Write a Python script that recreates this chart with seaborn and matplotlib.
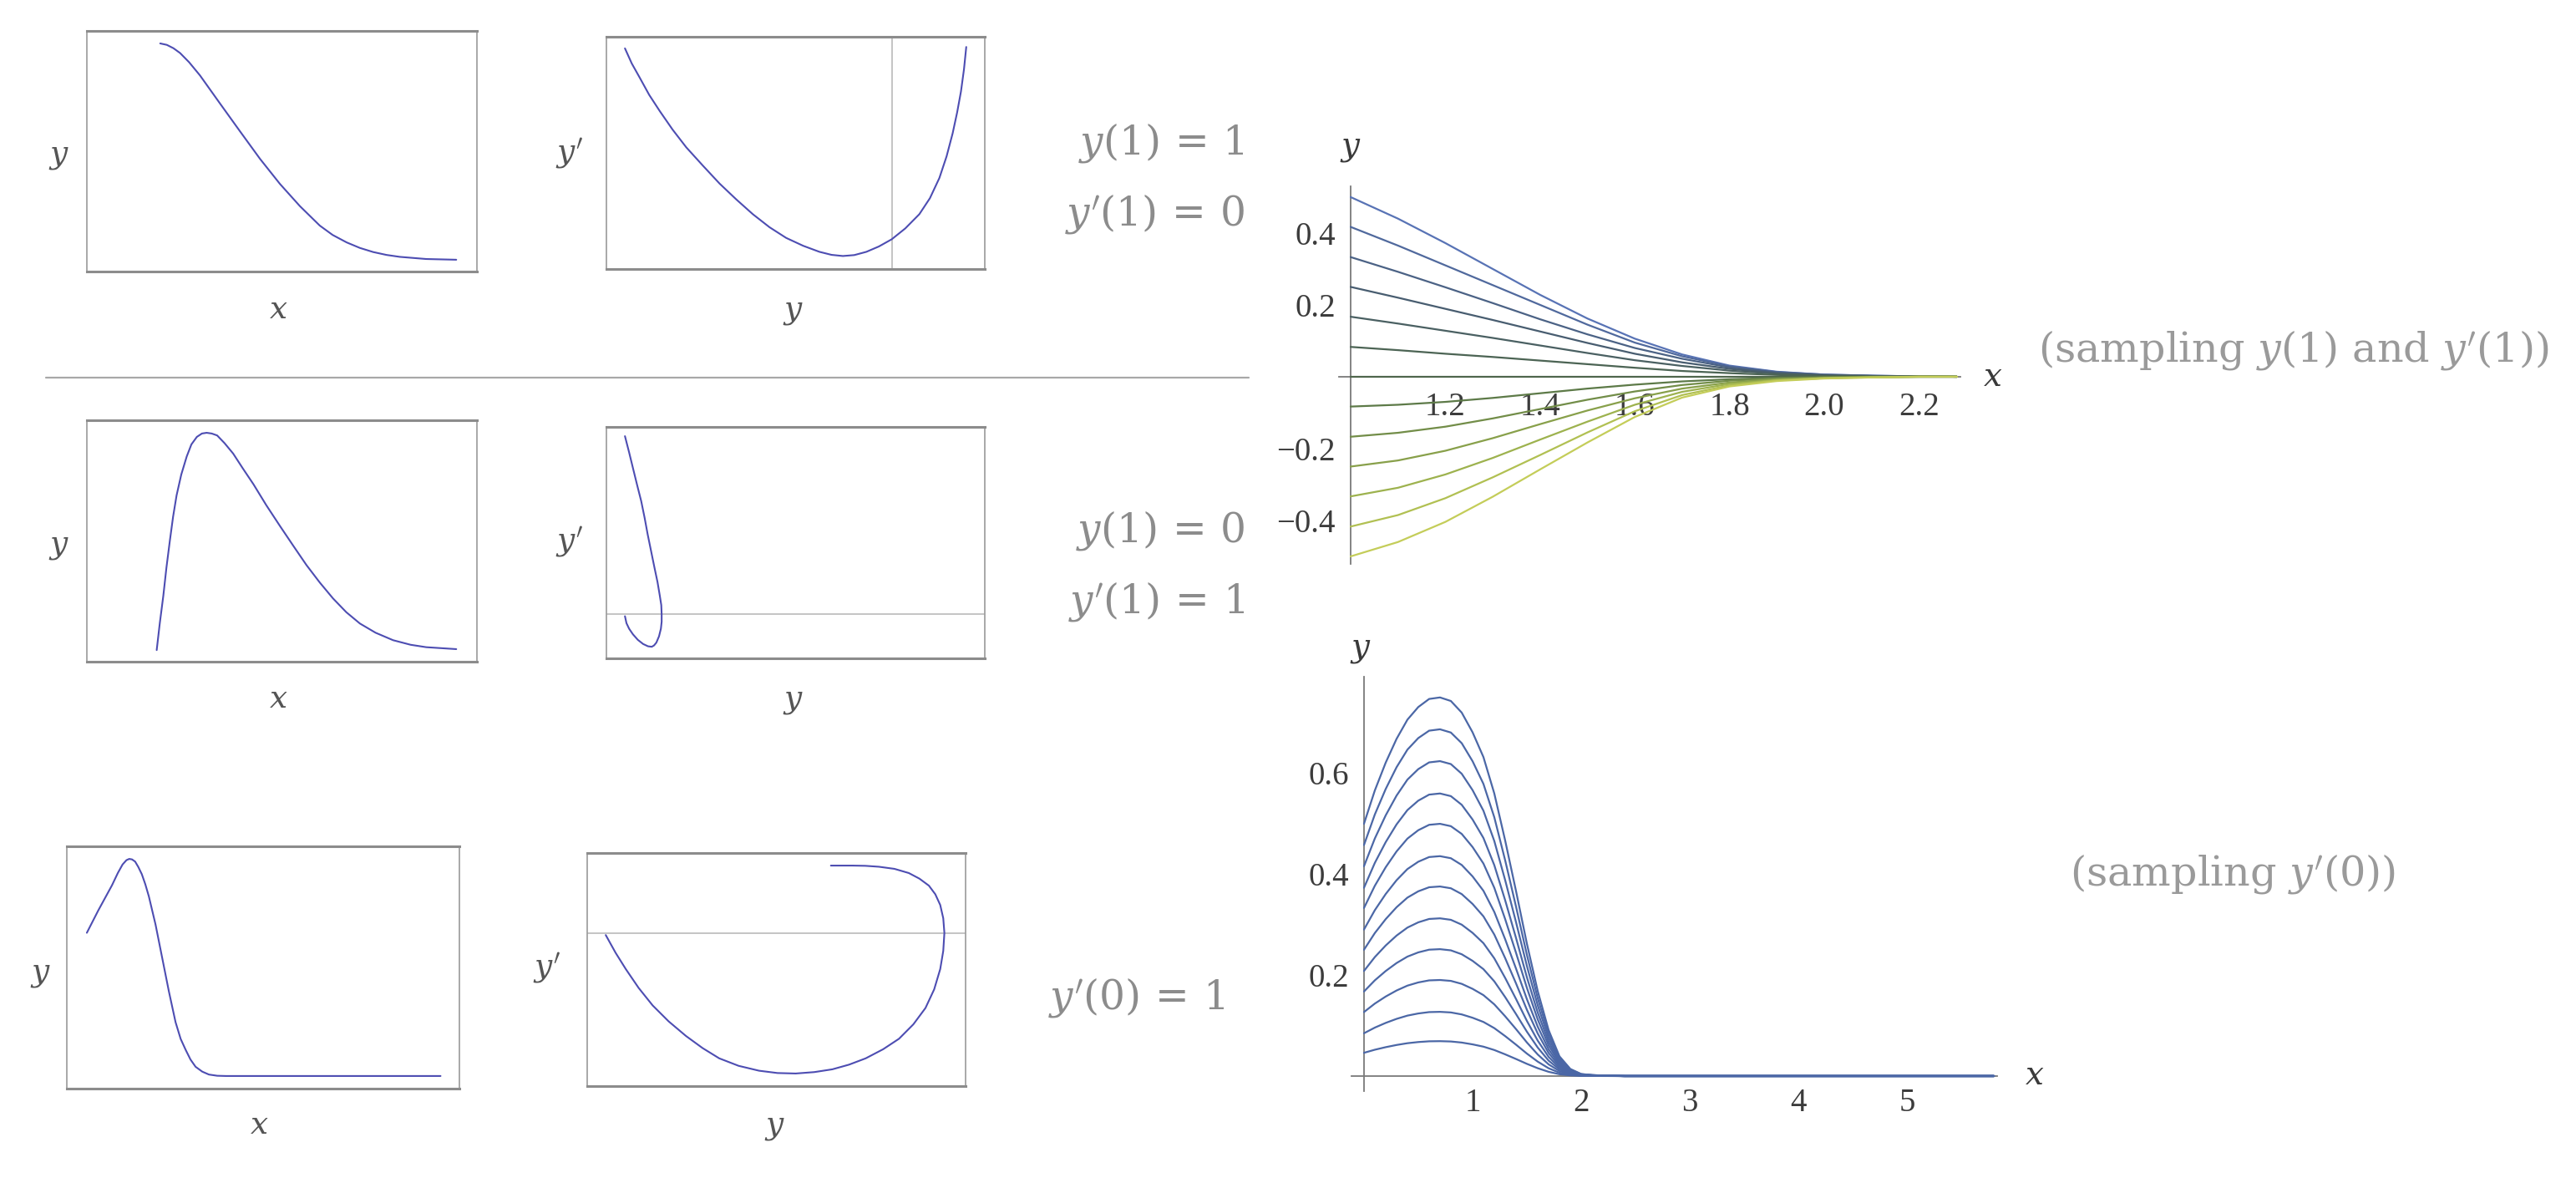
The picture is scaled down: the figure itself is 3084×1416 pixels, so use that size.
import numpy as np
import pandas as pd
import matplotlib
matplotlib.use("Agg")
import matplotlib.pyplot as plt
import seaborn as sns
from matplotlib.ticker import FixedLocator, MultipleLocator, FuncFormatter
from matplotlib.lines import Line2D

# ---------------- data ----------------
# left-hand framed panels (arbitrary frame units, 0..1)
p1_x = [.188, .205, .222, .239, .262, .290, .341, .392, .444, .495, .546, .597, .630, .666,
        .700, .734, .768, .802, .870, .947]
p1_y = [.948, .942, .928, .908, .870, .815, .699, .584, .468, .364, .272, .191, .152, .121,
        .098, .081, .069, .061, .052, .049]

p2_y = [.049, .067, .088, .113, .141, .175, .211, .255, .299, .343, .387, .431, .475, .520,
        .563, .595, .625, .655, .687, .720, .754, .790, .827, .855, .880, .899, .915, .927,
        .937, .945, .951]
p2_yp = [.950, .885, .824, .750, .680, .600, .524, .445, .368, .300, .236, .180, .134, .100,
         .074, .061, .056, .060, .074, .097, .128, .175, .236, .305, .392, .485, .584, .675,
         .764, .860, .956]
p2_guide = .754

p3_x = [.179, .187, .196, .204, .213, .221, .230, .242, .256, .268, .282, .295, .307, .320,
        .334, .353, .375, .400, .427, .460, .495, .530, .563, .597, .631, .665, .700, .740,
        .785, .830, .870, .947]
p3_y = [.048, .160, .273, .390, .504, .600, .689, .775, .850, .900, .931, .945, .948, .945,
        .937, .905, .862, .800, .735, .648, .562, .478, .400, .328, .262, .205, .158, .120,
        .089, .070, .060, .052]

p4_y = [.049, .060, .070, .081, .092, .101, .109, .118, .127, .135, .141, .145, .146, .146,
        .144, .139, .132, .126, .120, .110, .097, .083, .070, .060, .053, .049]
p4_yp = [.960, .890, .823, .750, .679, .607, .536, .464, .392, .330, .272, .230, .190, .158,
         .128, .095, .068, .056, .050, .052, .062, .080, .104, .128, .152, .182]
p4_guide = .190

p5_x = [.051, .080, .115, .130, .142, .152, .159, .166, .174, .182, .191, .200, .209, .226,
        .243, .260, .277, .290, .303, .315, .328, .345, .362, .383, .405, .679, .952]
p5_y = [.643, .735, .839, .890, .925, .943, .948, .946, .937, .915, .885, .843, .793, .677,
        .539, .401, .274, .205, .159, .120, .090, .070, .058, .053, .052, .052, .052]

p6_y = [.049, .075, .102, .136, .173, .215, .261, .305, .349, .400, .454, .503, .551, .600,
        .648, .692, .736, .782, .824, .862, .894, .917, .933, .941, .944, .941, .933, .920,
        .903, .878, .850, .812, .771, .735, .701, .644]
p6_yp = [.648, .572, .502, .421, .346, .278, .215, .163, .119, .087, .066, .056, .054, .060,
         .072, .092, .119, .158, .203, .265, .335, .415, .502, .580, .657, .720, .777, .823,
         .860, .890, .914, .932, .941, .945, .946, .946]
p6_guide = .657

# top-right family: sampling y(1) and y'(1)
tr_x = [1.0, 1.1, 1.2, 1.3, 1.4, 1.5, 1.6, 1.7, 1.8, 1.9, 2.0, 2.1, 2.2, 2.28]
tr_curves = {
    "p6": [0.500, 0.440, 0.372, 0.300, 0.228, 0.162, 0.106, 0.062, 0.031, 0.014, 0.006, 0.003, 0.001, 0.0],
    "p5": [0.417, 0.365, 0.310, 0.255, 0.200, 0.145, 0.095, 0.057, 0.029, 0.013, 0.006, 0.003, 0.001, 0.0],
    "p4": [0.333, 0.292, 0.249, 0.205, 0.160, 0.118, 0.080, 0.050, 0.026, 0.012, 0.005, 0.002, 0.001, 0.0],
    "p3": [0.250, 0.220, 0.189, 0.158, 0.126, 0.094, 0.064, 0.040, 0.022, 0.010, 0.004, 0.002, 0.001, 0.0],
    "p2": [0.167, 0.148, 0.128, 0.108, 0.087, 0.066, 0.046, 0.030, 0.017, 0.008, 0.004, 0.002, 0.001, 0.0],
    "p1": [0.083, 0.074, 0.064, 0.055, 0.045, 0.035, 0.025, 0.016, 0.010, 0.005, 0.002, 0.001, 0.0, 0.0],
    "z0": [0.0] * 14,
    "n1": [-0.083, -0.078, -0.070, -0.059, -0.046, -0.033, -0.022, -0.013, -0.007, -0.003, -0.001, 0.0, 0.0, 0.0],
    "n2": [-0.167, -0.156, -0.139, -0.116, -0.090, -0.064, -0.041, -0.023, -0.011, -0.005, -0.002, -0.001, 0.0, 0.0],
    "n3": [-0.250, -0.233, -0.206, -0.171, -0.132, -0.094, -0.060, -0.033, -0.016, -0.007, -0.003, -0.001, 0.0, 0.0],
    "n4": [-0.333, -0.309, -0.272, -0.226, -0.175, -0.125, -0.078, -0.042, -0.020, -0.009, -0.004, -0.001, 0.0, 0.0],
    "n5": [-0.417, -0.385, -0.338, -0.280, -0.218, -0.155, -0.096, -0.051, -0.024, -0.010, -0.004, -0.002, 0.0, 0.0],
    "n6": [-0.500, -0.460, -0.404, -0.334, -0.258, -0.183, -0.112, -0.058, -0.027, -0.012, -0.005, -0.002, 0.0, 0.0],
}
tr_colors = ["#5873b5", "#50699d", "#4b6285", "#485d70", "#4a6062", "#4c6454", "#4f664c",
             "#5d7a48", "#728d48", "#88a04a", "#9db24e", "#b1c052", "#c4cd59"]
tr_xticks = [1.2, 1.4, 1.6, 1.8, 2.0, 2.2]
tr_yticks = [-0.4, -0.2, 0.2, 0.4]

# bottom-right family: sampling y'(0)  (top curve profile + peak heights)
br_x = [0.0, 0.1, 0.2, 0.3, 0.4, 0.5, 0.6, 0.7, 0.8, 0.9, 1.0, 1.1, 1.2, 1.3, 1.4,
        1.5, 1.6, 1.7, 1.8, 1.9, 2.0, 2.1, 2.2, 2.4, 3.0, 4.0, 5.0, 5.8]
br_top = [0.499, 0.565, 0.620, 0.667, 0.705, 0.730, 0.746, 0.749, 0.742, 0.719, 0.680,
          0.631, 0.559, 0.466, 0.366, 0.262, 0.168, 0.091, 0.039, 0.014, 0.004, 0.002,
          0.001, 0.0, 0.0, 0.0, 0.0, 0.0]
br_peaks = [0.069, 0.127, 0.190, 0.251, 0.312, 0.375, 0.435, 0.499, 0.559, 0.623, 0.686, 0.749]
br_xticks = [1, 2, 3, 4, 5]
br_yticks = [0.2, 0.4, 0.6]

# ---------------- style ----------------
sns.set_style("white")
plt.rcParams["font.family"] = ["Liberation Serif", "DejaVu Serif"]
plt.rcParams["mathtext.fontset"] = "dejavuserif"
plt.rcParams["axes.unicode_minus"] = True

W, H = 3084, 1416
fig = plt.figure(figsize=(W / 100, H / 100), dpi=100)


def axes_px(x0, y0, x1, y1):
    return fig.add_axes([x0 / W, 1 - y1 / H, (x1 - x0) / W, (y1 - y0) / H])


def ftext(px, py, s, **kw):
    fig.text(px / W, 1 - py / H, s, **kw)


CURVE = "#4d4db2"
GUIDE = "#c4c4c4"


def panel(box, xs, ys, vguide=None, hguide=None):
    ax = axes_px(*box)
    if vguide is not None:
        ax.axvline(vguide, color=GUIDE, lw=1.4, zorder=1)
    if hguide is not None:
        ax.axhline(hguide, color=GUIDE, lw=1.4, zorder=1)
    sns.lineplot(x=xs, y=ys, sort=False, estimator=None, color=CURVE, lw=1.5, ax=ax)
    ax.set_xlim(0, 1)
    ax.set_ylim(0, 1)
    ax.set_xticks([])
    ax.set_yticks([])
    ax.set_xlabel("")
    ax.set_ylabel("")
    for s in ["top", "bottom"]:
        ax.spines[s].set_linewidth(2.2)
        ax.spines[s].set_color("#8c8c8c")
    for s in ["left", "right"]:
        ax.spines[s].set_linewidth(1.2)
        ax.spines[s].set_color("#9a9a9a")
    return ax


LBL = dict(fontsize=27, color="#555555", ha="center", va="center")

panel((104, 37, 571, 325), p1_x, p1_y)
panel((726, 44, 1179, 322), p2_y, p2_yp, vguide=p2_guide)
panel((104, 503, 571, 792), p3_x, p3_y)
panel((726, 511, 1179, 788), p4_y, p4_yp, hguide=p4_guide)
panel((80, 1013, 550, 1303), p5_x, p5_y)
panel((703, 1021, 1156, 1300), p6_y, p6_yp, hguide=p6_guide)

for (px, py, s) in [(70, 188, "$y$"), (333, 372, "$x$"), (682, 183, "$y'$"), (949, 374, "$y$"),
                    (70, 655, "$y$"), (333, 838, "$x$"), (682, 648, "$y'$"), (949, 840, "$y$"),
                    (48, 1167, "$y$"), (310, 1348, "$x$"), (655, 1158, "$y'$"), (927, 1350, "$y$")]:
    ftext(px, py, s, **LBL)

# separator
fig.add_artist(Line2D([55 / W, 1495 / W], [1 - 452 / H, 1 - 452 / H], color="#a8a8a8", lw=1.6))

# condition labels
MID = dict(fontsize=35, color="#8c8c8c", ha="right", va="center", fontfamily="DejaVu Serif")
ftext(1490, 171, "$y(1)\\,=\\,1$", **MID)
ftext(1490, 256, "$y'(1)\\,=\\,0$", **MID)
ftext(1490, 635, "$y(1)\\,=\\,0$", **MID)
ftext(1490, 720, "$y'(1)\\,=\\,1$", **MID)
ftext(1466, 1194, "$y'(0)\\,=\\,1$", **MID)

CAP = dict(fontsize=35.5, color="#9a9a9a", ha="left", va="center", fontfamily="DejaVu Serif")
ftext(2440, 419, "(sampling $y(1)$ and $y'(1)$)", **CAP)
ftext(2478, 1046, "(sampling $y'(0)$)", **CAP)


def style_axes(ax, xorigin, xmaj, xmin_step, ymaj, ymin_step, fmt_x):
    for s in ["top", "right"]:
        ax.spines[s].set_visible(False)
    ax.spines["left"].set_position(("data", xorigin))
    ax.spines["bottom"].set_position(("data", 0.0))
    for s in ["left", "bottom"]:
        ax.spines[s].set_color("#7a7a7a")
        ax.spines[s].set_linewidth(1.3)
        ax.spines[s].set_zorder(1)
    ax.xaxis.set_major_locator(FixedLocator(xmaj))
    ax.xaxis.set_minor_locator(MultipleLocator(xmin_step))
    ax.yaxis.set_major_locator(FixedLocator(ymaj))
    ax.yaxis.set_minor_locator(MultipleLocator(ymin_step))
    ax.xaxis.set_major_formatter(FuncFormatter(fmt_x))
    ax.yaxis.set_major_formatter(FuncFormatter(lambda v, _: f"{v:.1f}".replace("-", "\u2212")))
    ax.tick_params(which="major", direction="in", length=8, width=1.1, color="#7a7a7a",
                   labelsize=28, labelcolor="#3c3c3c", pad=13)
    ax.tick_params(which="minor", direction="in", length=4.5, width=0.9, color="#8a8a8a")
    ax.set_xlabel("")
    ax.set_ylabel("")
    ax.patch.set_alpha(0)


# ---------------- top-right ----------------
rows = []
for name, vals in tr_curves.items():
    for xv, yv in zip(tr_x, vals):
        rows.append((name, xv, yv))
df_tr = pd.DataFrame(rows, columns=["curve", "x", "y"])
order = list(tr_curves.keys())
ax_tr = axes_px(1603, 223, 2347, 675)
sns.lineplot(data=df_tr, x="x", y="y", hue="curve", hue_order=order,
             palette=dict(zip(order, tr_colors)), estimator=None, sort=False,
             legend=False, lw=1.6, ax=ax_tr)
ax_tr.set_xlim(0.9753, 2.2875)
ax_tr.set_ylim(-0.521, 0.530)
style_axes(ax_tr, 1.0, tr_xticks, 0.05, tr_yticks, 0.05, lambda v, _: f"{v:.1f}")
ftext(1617, 177, "$y$", fontsize=28, color="#3a3a3a", ha="center", va="center")
ftext(2386, 452, "$x$", fontsize=28, color="#3a3a3a", ha="center", va="center")

# ---------------- bottom-right ----------------
rows = []
top_peak = max(br_top)
for i, pk in enumerate(br_peaks):
    for xv, yv in zip(br_x, br_top):
        rows.append((f"c{i}", xv, yv * pk / top_peak))
df_br = pd.DataFrame(rows, columns=["curve", "x", "y"])
ax_br = axes_px(1618, 810, 2391, 1306)
sns.lineplot(data=df_br, x="x", y="y", hue="curve",
             palette=["#4b67a6"] * len(br_peaks), estimator=None, sort=False,
             legend=False, lw=1.6, ax=ax_br)
ax_br.set_xlim(-0.115, 5.83)
ax_br.set_ylim(-0.0298, 0.790)
style_axes(ax_br, 0.0, br_xticks, 0.2, br_yticks, 0.05, lambda v, _: f"{int(round(v))}")
ax_br.tick_params(axis="x", which="major", pad=10)
ftext(1629, 777, "$y$", fontsize=28, color="#3a3a3a", ha="center", va="center")
ftext(2436, 1288, "$x$", fontsize=28, color="#3a3a3a", ha="center", va="center")

fig.savefig("out.png", dpi=100, facecolor="white")
